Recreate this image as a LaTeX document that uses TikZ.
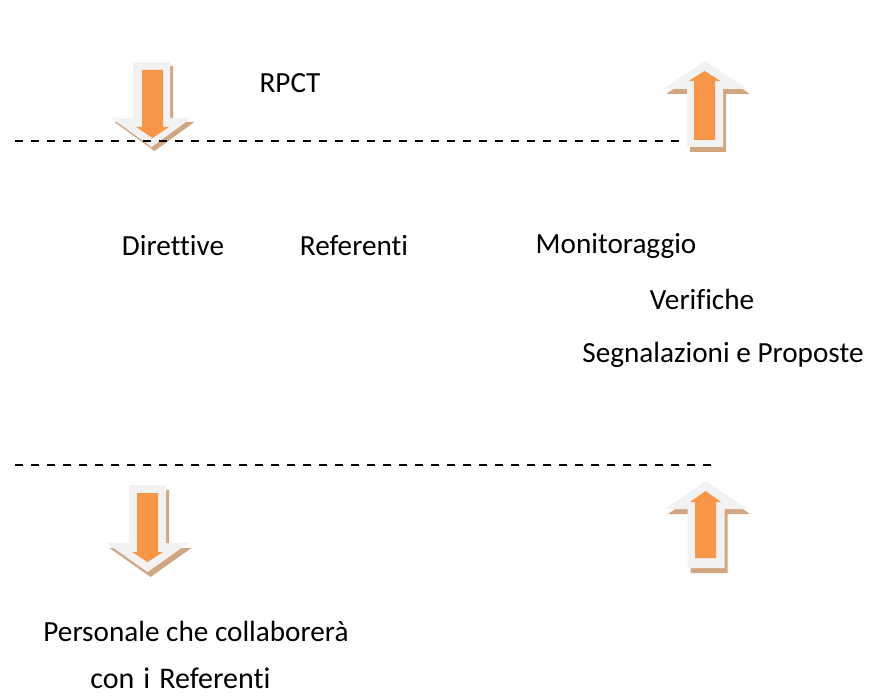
\documentclass[tikz,border=0pt]{standalone}
\usepackage{fontspec}
\setmainfont{Carlito}[Ligatures=NoCommon]
\usepackage{tikz}
\usetikzlibrary{positioning}
\definecolor{ArrowOrange}{HTML}{F79646}
\definecolor{ArrowGray}{HTML}{F2F2F2}
\definecolor{ArrowShadow}{HTML}{D2A681}

% block arrow: style, centre x, tail y, head base y, tip y, shaft half width, head half width
\newcommand{\blockarrow}[7]{%
  \path[#1] (#2-#6,#3) -- (#2+#6,#3) -- (#2+#6,#4) -- (#2+#7,#4) -- (#2,#5)
    -- (#2-#7,#4) -- (#2-#6,#4) -- cycle;}

\begin{document}
\begin{tikzpicture}[x=0.5pt,y=-0.5pt,
  label/.style={font=\fontsize{14.6}{17}\selectfont, inner sep=0pt},
  sep/.style={dash pattern=on 4pt off 4pt, line width=0.7pt}]

\useasboundingbox (0,0) rectangle (870,695);

% Top texts
\node[label] (rpct) at (290,83) {RPCT};
\node[label] (direttive) at (173,246) {Direttive};
\node[label] (referenti) at (354,246) {Referenti};
\node[label] (monitoraggio) at (616,246) {Monitoraggio};
\node[label] (verifiche) at (702,299) {Verifiche};
\node[label] (segnalazioni) at (723,355) {Segnalazioni e Proposte};

% Bottom texts
\node[label] (personale) at (196,631) {Personale che collaborerà};
\node[label, font=\fontsize{15}{17}\selectfont] (conref) at (180.5,678) {con\hspace{4.5pt}i\hspace{4.5pt}Referenti};

% Arrow from RPCT down
\blockarrow{fill=ArrowShadow, shift={(3,4)}}{151.5}{62}{118}{147}{18.5}{40}
\blockarrow{fill=ArrowGray}{151.5}{62}{118}{147}{18.5}{40}
\blockarrow{fill=ArrowOrange}{152.5}{70}{127}{138}{10.5}{16.5}

% Arrow up to RPCT
\blockarrow{fill=ArrowShadow, shift={(3,5)}}{705}{147}{89}{61}{18}{42}
\blockarrow{fill=ArrowGray}{705}{147}{89}{61}{18}{42}
\blockarrow{fill=ArrowOrange}{704.5}{140}{81}{71}{10.5}{16}

% Arrow down to Personale
\blockarrow{fill=ArrowShadow, shift={(3,5)}}{147.5}{485}{543}{572}{18.5}{41}
\blockarrow{fill=ArrowGray}{147.5}{485}{543}{572}{18.5}{41}
\blockarrow{fill=ArrowOrange}{147.5}{493}{552}{562}{10.5}{15.5}

% Arrow up from Personale
\blockarrow{fill=ArrowShadow, shift={(3,5)}}{706}{568}{509}{481}{18.5}{41}
\blockarrow{fill=ArrowGray}{706}{568}{509}{481}{18.5}{41}
\blockarrow{fill=ArrowOrange}{705.5}{558}{502}{491}{10.5}{15.5}

% Dashed separators
\coordinate (topL) at (15,141);
\coordinate (topR) at (682,141);
\coordinate (botL) at (15,465);
\coordinate (botR) at (712,465);
\draw[sep] (topL) -- (topR);
\draw[sep] (botL) -- (botR);

\end{tikzpicture}
\end{document}
